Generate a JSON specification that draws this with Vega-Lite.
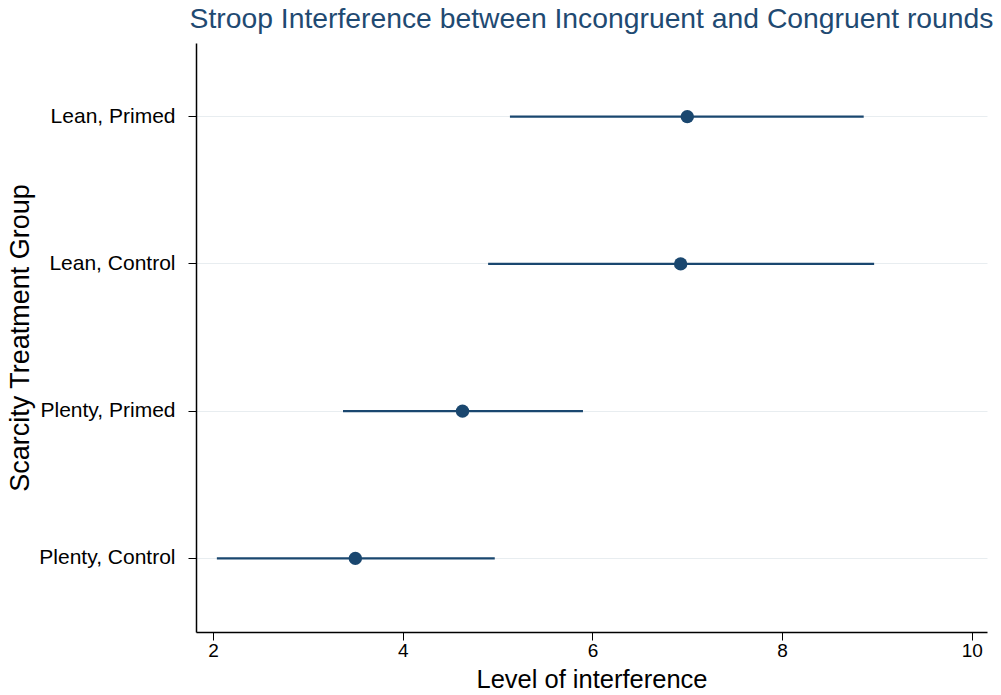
{
  "$schema": "https://vega.github.io/schema/vega-lite/v6.json",
  "autosize": {"type": "none"},
  "padding": {"left": 196, "top": 43, "right": 14, "bottom": 63},
  "width": 791,
  "height": 589,
  "background": "white",
  "title": {
    "text": "Stroop Interference between Incongruent and Congruent rounds",
    "font": "Liberation Sans",
    "fontSize": 28.3,
    "fontWeight": "normal",
    "color": "#1f4a72",
    "anchor": "middle",
    "offset": 9
  },
  "config": {
    "view": {"stroke": null},
    "font": "Liberation Sans"
  },
  "data": {
    "values": [
      {"group": "Lean, Primed", "mean": 7.0, "lo": 5.13, "hi": 8.86},
      {"group": "Lean, Control", "mean": 6.93, "lo": 4.9, "hi": 8.97},
      {"group": "Plenty, Primed", "mean": 4.63, "lo": 3.37, "hi": 5.9},
      {"group": "Plenty, Control", "mean": 3.5, "lo": 2.04, "hi": 4.97}
    ]
  },
  "encoding": {
    "y": {
      "field": "group",
      "type": "nominal",
      "sort": ["Lean, Primed", "Lean, Control", "Plenty, Primed", "Plenty, Control"],
      "scale": {"type": "band", "paddingInner": 0, "paddingOuter": 0},
      "axis": {
        "title": "Scarcity Treatment Group",
        "titleFontSize": 27,
        "titleFontWeight": "normal",
        "titleColor": "black",
        "titlePadding": 4,
        "labelFontSize": 21,
        "labelColor": "black",
        "labelPadding": 13,
        "tickSize": 8,
        "tickColor": "black",
        "domainColor": "black",
        "domainWidth": 1.5,
        "grid": true,
        "gridColor": "#e8edf0",
        "gridWidth": 1,
        "bandPosition": 0.5
      }
    }
  },
  "layer": [
    {
      "mark": {"type": "rule", "color": "#1a476f", "strokeWidth": 2.2},
      "encoding": {
        "x": {
          "field": "lo",
          "type": "quantitative",
          "scale": {"domain": [1.82, 10.16], "nice": false, "zero": false},
          "axis": {
            "title": "Level of interference",
            "titleFontSize": 25.5,
            "titleFontWeight": "normal",
            "titleColor": "black",
            "titlePadding": 7,
            "values": [2, 4, 6, 8, 10],
            "format": "d",
            "labelFontSize": 19,
            "labelColor": "black",
            "labelPadding": 1,
            "tickSize": 8,
            "tickColor": "black",
            "domainColor": "black",
            "domainWidth": 1.5,
            "grid": false
          }
        },
        "x2": {"field": "hi"}
      }
    },
    {
      "mark": {"type": "point", "filled": true, "color": "#1a476f", "opacity": 1, "size": 180},
      "encoding": {
        "x": {"field": "mean", "type": "quantitative"}
      }
    }
  ]
}
